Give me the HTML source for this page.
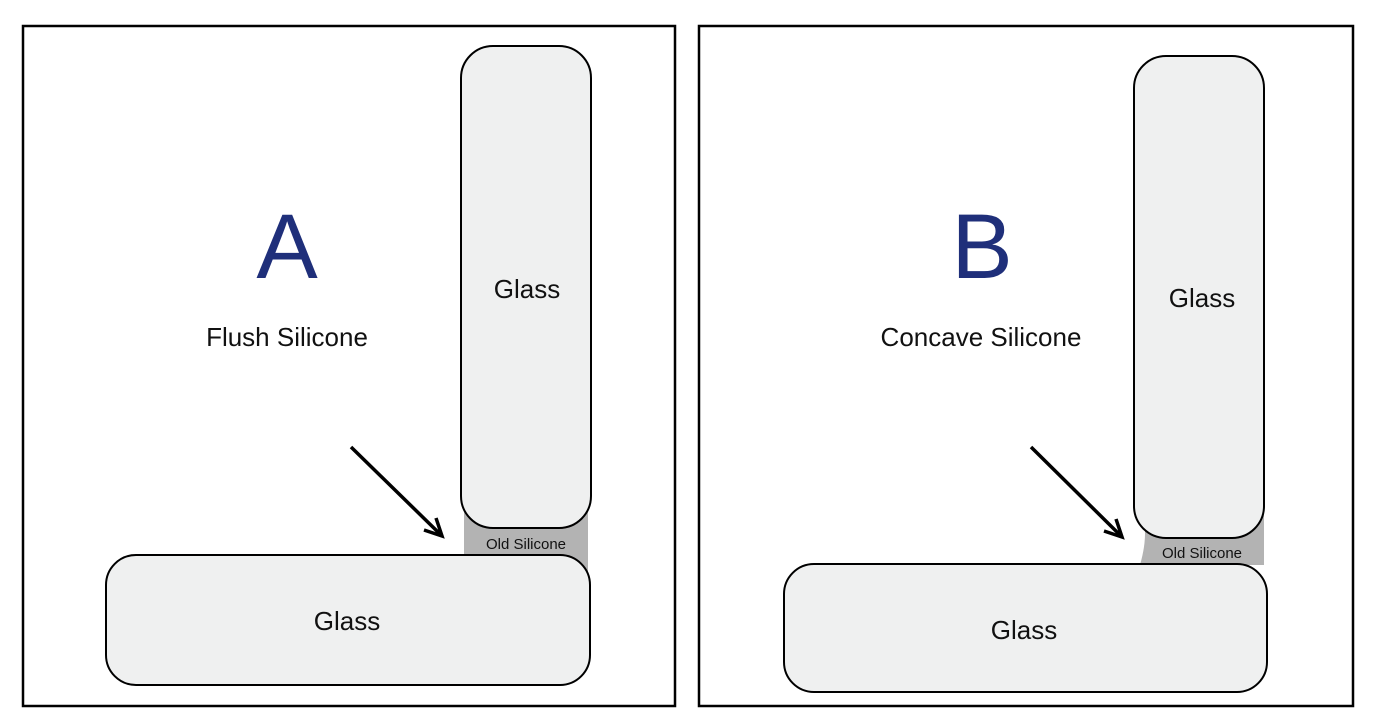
<!DOCTYPE html>
<html><head><style>body{margin:0;background:#fff}svg{display:block}text{font-family:"Liberation Sans",sans-serif;fill:#111}</style></head><body>
<svg width="1374" height="724" viewBox="0 0 1374 724" xmlns="http://www.w3.org/2000/svg">
<rect x="23" y="26" width="652" height="680" fill="#fff" stroke="#000" stroke-width="2.5"/>
<rect x="699" y="26" width="654" height="680" fill="#fff" stroke="#000" stroke-width="2.5"/>
<!-- A -->
<rect x="464" y="500" width="124" height="80" fill="#b3b3b3"/>
<rect x="461" y="46" width="130" height="482" rx="32" fill="#eff0f0" stroke="#000" stroke-width="2"/>
<rect x="106" y="555" width="484" height="130" rx="30" fill="#eff0f0" stroke="#000" stroke-width="2"/>
<text x="526" y="549" font-size="15" text-anchor="middle">Old Silicone</text>
<text x="527" y="298" font-size="26" text-anchor="middle">Glass</text>
<text x="347" y="630" font-size="26" text-anchor="middle">Glass</text>
<text x="287" y="278" font-size="92" text-anchor="middle" style="fill:#1f2f7a">A</text>
<text x="287" y="346" font-size="26" text-anchor="middle">Flush Silicone</text>
<line x1="351" y1="447" x2="440" y2="534" stroke="#000" stroke-width="3.5"/>
<path d="M424,530 L442,536 L436,518" fill="none" stroke="#000" stroke-width="3.5"/>
<!-- B -->
<path d="M1140,510 Q1150,530 1140,565 L1264,565 L1264,510 Z" fill="#b3b3b3"/>
<rect x="1134" y="56" width="130" height="482" rx="32" fill="#eff0f0" stroke="#000" stroke-width="2"/>
<rect x="784" y="564" width="483" height="128" rx="30" fill="#eff0f0" stroke="#000" stroke-width="2"/>
<text x="1202" y="558" font-size="15" text-anchor="middle">Old Silicone</text>
<text x="1202" y="307" font-size="26" text-anchor="middle">Glass</text>
<text x="1024" y="639" font-size="26" text-anchor="middle">Glass</text>
<text x="982" y="278" font-size="92" text-anchor="middle" style="fill:#1f2f7a">B</text>
<text x="981" y="346" font-size="26" text-anchor="middle">Concave Silicone</text>
<line x1="1031" y1="447" x2="1120" y2="535" stroke="#000" stroke-width="3.5"/>
<path d="M1104,531 L1122,537 L1116,519" fill="none" stroke="#000" stroke-width="3.5"/>
</svg>
</body></html>
